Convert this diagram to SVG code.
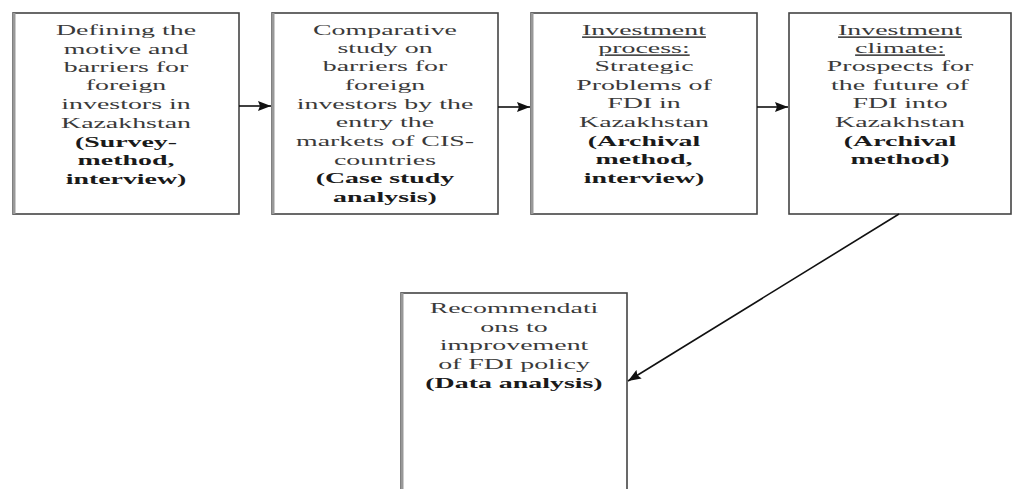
<svg xmlns="http://www.w3.org/2000/svg" width="1013" height="489" viewBox="0 0 1013 489">
<defs>
<style>
.box{fill:#fff;stroke:#444;stroke-width:1.6}
.edge{stroke:#999;stroke-width:3}
.t{font-family:'Liberation Serif','DejaVu Serif','Times New Roman',serif;font-size:15.5px;fill:#3a3a3a;text-anchor:middle}
.b{font-weight:bold;fill:#1a1a1a}
.u{text-decoration:underline}
.conn{stroke:#111;stroke-width:1.6;fill:none;marker-end:url(#ah)}
</style>
<marker id="ah" viewBox="0 0 13 10" refX="13" refY="5" markerWidth="13" markerHeight="10" markerUnits="userSpaceOnUse" orient="auto">
<path d="M0,0 L13,5 L0,10 L2,5 Z" fill="#111"/>
</marker>
</defs>
<rect width="1013" height="489" fill="#fff"/>

<g id="node1" font-family="Liberation Serif, serif">
<rect class="box" x="13" y="13" width="226" height="201"/>
<line class="edge" x1="14" y1="13" x2="14" y2="214"/>
<g transform="translate(126,0) scale(1.8,1)">
<text class="t" x="0" y="35">Defining the</text>
<text class="t" x="0" y="54">motive and</text>
<text class="t" x="0" y="72">barriers for</text>
<text class="t" x="0" y="90">foreign</text>
<text class="t" x="0" y="109">investors  in</text>
<text class="t" x="0" y="128">Kazakhstan</text>
<text class="t b" x="0" y="147">(Survey-</text>
<text class="t b" x="0" y="165">method,</text>
<text class="t b" x="0" y="184">interview)</text>
</g>
</g>

<g id="node2">
<rect class="box" x="272" y="13" width="226" height="201"/>
<line class="edge" x1="273" y1="13" x2="273" y2="214"/>
<g transform="translate(385,0) scale(1.8,1)">
<text class="t" x="0" y="35">Comparative</text>
<text class="t" x="0" y="53">study on</text>
<text class="t" x="0" y="71">barriers for</text>
<text class="t" x="0" y="90">foreign</text>
<text class="t" x="0" y="109">investors by the</text>
<text class="t" x="0" y="127">entry the</text>
<text class="t" x="0" y="146">markets of CIS-</text>
<text class="t" x="0" y="165">countries</text>
<text class="t b" x="0" y="183">(Case study</text>
<text class="t b" x="0" y="202">analysis)</text>
</g>
</g>

<g id="node3">
<rect class="box" x="531" y="13" width="226" height="201"/>
<line class="edge" x1="532" y1="13" x2="532" y2="214"/>
<g transform="translate(644,0) scale(1.8,1)">
<text class="t u" x="0" y="35">Investment</text>
<text class="t u" x="0" y="53">process:</text>
<text class="t" x="0" y="71">Strategic</text>
<text class="t" x="0" y="90">Problems of</text>
<text class="t" x="0" y="108">FDI in</text>
<text class="t" x="0" y="127">Kazakhstan</text>
<text class="t b" x="0" y="146">(Archival</text>
<text class="t b" x="0" y="164">method,</text>
<text class="t b" x="0" y="183">interview)</text>
</g>
</g>

<g id="node4">
<rect class="box" x="789" y="13" width="222" height="201"/>
<g transform="translate(900,0) scale(1.8,1)">
<text class="t u" x="0" y="35">Investment</text>
<text class="t u" x="0" y="53">climate:</text>
<text class="t" x="0" y="71">Prospects for</text>
<text class="t" x="0" y="90">the future of</text>
<text class="t" x="0" y="108">FDI into</text>
<text class="t" x="0" y="127">Kazakhstan</text>
<text class="t b" x="0" y="146">(Archival</text>
<text class="t b" x="0" y="164">method)</text>
</g>
</g>

<g id="node5">
<rect class="box" x="401" y="293" width="226" height="210"/>
<line class="edge" x1="402" y1="293" x2="402" y2="489"/>
<g transform="translate(514,0) scale(1.8,1)">
<text class="t" x="0" y="313">Recommendati</text>
<text class="t" x="0" y="332">ons to</text>
<text class="t" x="0" y="350">improvement</text>
<text class="t" x="0" y="369">of FDI policy</text>
<text class="t b" x="0" y="388">(Data analysis)</text>
</g>
</g>

<g id="connectors">
<line class="conn" x1="239" y1="106" x2="271" y2="106"/>
<line class="conn" x1="498" y1="107" x2="530" y2="107"/>
<line class="conn" x1="757" y1="107" x2="788" y2="107"/>
<line class="conn" x1="899" y1="214" x2="628" y2="381"/>
</g>
</svg>
